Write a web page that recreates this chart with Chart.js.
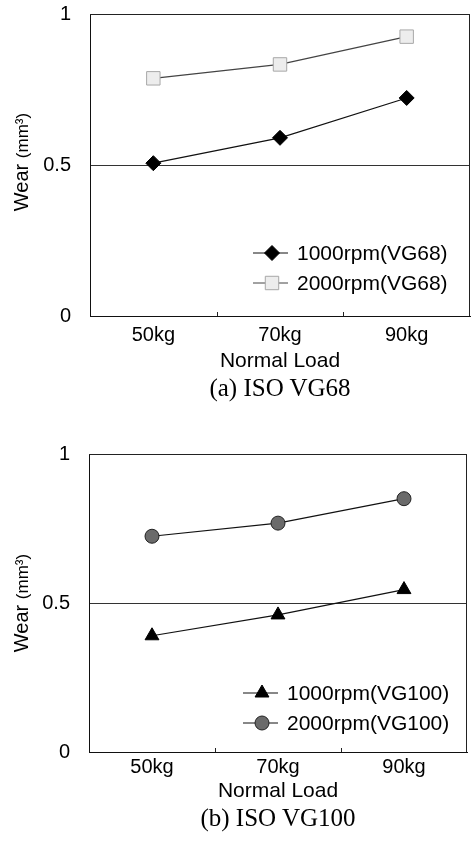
<!DOCTYPE html>
<html>
<head>
<meta charset="utf-8">
<script src="https://cdn.jsdelivr.net/npm/chart.js@4"></script>
<style>
  body { margin: 0; background: #fff; width: 471px; height: 855px; position: relative; overflow: hidden; }
  .box { position: absolute; left: 0; width: 471px; }
  .caption { position: absolute; left: 0; width: 560px; text-align: center;
             font-family: "Liberation Serif", "Times New Roman", serif; font-size: 25px; color: #000; line-height: 28px; }
</style>
</head>
<body>
<div class="box" style="top:0; height:375px;"><canvas id="chartA" width="471" height="375"></canvas></div>
<div class="caption" style="top:374px;">(a) ISO VG68</div>
<div class="box" style="top:440px; height:366px;"><canvas id="chartB" width="471" height="366"></canvas></div>
<div class="caption" style="top:804px; width:556px;">(b) ISO VG100</div>
<script>
// categories and read-off values
const loads = ['50kg', '70kg', '90kg'];
const yTicks = [0, 0.5, 1];

const wearVG68_1000 = [0.506, 0.590, 0.722];
const wearVG68_2000 = [0.787, 0.833, 0.925];
const wearVG100_1000 = [0.39, 0.46, 0.545];
const wearVG100_2000 = [0.724, 0.768, 0.850];

const SANS = '"Liberation Sans", Arial, sans-serif';
Chart.defaults.font.family = SANS;
Chart.defaults.color = '#000';

// frame, inner category ticks, y title and the legend box inside the plot
const decor = {
    id: 'decor',
    afterDraw(chart, args, opts) {
        const ctx = chart.ctx;
        const a = chart.chartArea;
        const x = chart.scales.x;
        ctx.save();
        ctx.strokeStyle = '#222';
        ctx.lineWidth = 1;
        ctx.beginPath();
        ctx.moveTo(a.left, a.top + 0.5);
        ctx.lineTo(a.right - 0.5, a.top + 0.5);
        ctx.lineTo(a.right - 0.5, a.bottom);
        ctx.stroke();

        // small ticks between categories
        const half = (x.getPixelForValue(1) - x.getPixelForValue(0)) / 2;
        for (let i = 0; i < loads.length - 1; i++) {
            const px = Math.round(x.getPixelForValue(i) + half) + 0.5;
            ctx.beginPath();
            ctx.moveTo(px, a.bottom);
            ctx.lineTo(px, a.bottom - 4);
            ctx.stroke();
        }

        // rotated y title "Wear (mm³)" with the smaller unit
        ctx.translate(22, opts.titleY);
        ctx.rotate(-Math.PI / 2);
        ctx.textBaseline = 'middle';
        ctx.fillStyle = '#000';
        ctx.font = '20px ' + SANS;
        const w1 = ctx.measureText('Wear ').width;
        ctx.font = '17px ' + SANS;
        const w2 = ctx.measureText('(mm³)').width;
        let tx = -(w1 + w2) / 2;
        ctx.font = '20px ' + SANS;
        ctx.textAlign = 'left';
        ctx.fillText('Wear ', tx, 0);
        ctx.font = '17px ' + SANS;
        ctx.fillText('(mm³)', tx + w1, 1);
        ctx.restore();

        // legend
        ctx.save();
        chart.data.datasets.forEach((ds, i) => {
            const ly = opts.legendY + i * 30;
            ctx.strokeStyle = ds.borderColor;
            ctx.lineWidth = 1;
            ctx.beginPath();
            ctx.moveTo(opts.legendX, ly);
            ctx.lineTo(opts.legendX + 35, ly);
            ctx.stroke();
            ctx.fillStyle = ds.pointBackgroundColor;
            ctx.strokeStyle = ds.pointBorderColor;
            ctx.lineWidth = ds.pointBorderWidth;
            Chart.helpers.drawPoint(ctx, {
                pointStyle: ds.pointStyle, radius: ds.pointRadius,
                rotation: 0, borderWidth: ds.pointBorderWidth
            }, opts.legendX + 19, ly);
            ctx.fillStyle = '#000';
            ctx.font = '21px ' + SANS;
            ctx.textAlign = 'left';
            ctx.textBaseline = 'middle';
            ctx.fillText(ds.label, opts.legendX + 44, ly + 1);
        });
        ctx.restore();
    }
};

function makeChart(id, datasets, cfg) {
    return new Chart(document.getElementById(id), {
        type: 'line',
        data: { labels: loads, datasets: datasets },
        options: {
            responsive: false,
            animation: false,
            events: [],
            layout: { autoPadding: false, padding: { top: 14, right: cfg.right, left: 0, bottom: 0 } },
            plugins: {
                legend: { display: false },
                tooltip: { enabled: false },
                decor: { titleY: cfg.titleY, legendX: cfg.legendX, legendY: cfg.legendY }
            },
            scales: {
                x: {
                    type: 'category',
                    offset: true,
                    grid: { display: false, drawTicks: false },
                    border: { display: true, color: '#111', width: 1 },
                    ticks: { font: { size: 20 }, padding: cfg.tickPad, color: '#000', maxRotation: 0 },
                    title: { display: true, text: 'Normal Load', font: { size: 21 },
                             color: '#000', padding: { top: 0, bottom: cfg.titlePad } },
                    afterFit: s => { s.height = cfg.xHeight; s.paddingLeft = 0; s.paddingRight = 0; }
                },
                y: {
                    min: 0, max: 1,
                    afterBuildTicks: s => { s.ticks = yTicks.map(v => ({ value: v })); },
                    grid: { color: '#333', lineWidth: 1, drawTicks: false },
                    border: { display: true, color: '#111', width: 1 },
                    ticks: { font: { size: 20 }, padding: 19, color: '#000', callback: v => String(v) },
                    afterFit: s => { s.width = cfg.yWidth; s.paddingTop = 0; s.paddingBottom = 0; }
                }
            }
        },
        plugins: [decor]
    });
}

makeChart('chartA', [
    {
        label: '1000rpm(VG68)', data: wearVG68_1000,
        borderColor: '#111', borderWidth: 1.2,
        pointStyle: 'rectRot', pointRadius: 7.5,
        pointBackgroundColor: '#000', pointBorderColor: '#000', pointBorderWidth: 1
    },
    {
        label: '2000rpm(VG68)', data: wearVG68_2000,
        borderColor: '#444', borderWidth: 1.2,
        pointStyle: 'rect', pointRadius: 9.5,
        pointBackgroundColor: '#ededed', pointBorderColor: '#a8a8a8', pointBorderWidth: 1
    }
], { right: 1, yWidth: 90, xHeight: 59, tickPad: 7, titlePad: 1, titleY: 162, legendX: 253, legendY: 253 });

makeChart('chartB', [
    {
        label: '1000rpm(VG100)', data: wearVG100_1000,
        borderColor: '#111', borderWidth: 1.2,
        pointStyle: 'triangle', pointRadius: 8,
        pointBackgroundColor: '#000', pointBorderColor: '#000', pointBorderWidth: 1
    },
    {
        label: '2000rpm(VG100)', data: wearVG100_2000,
        borderColor: '#111', borderWidth: 1.2,
        pointStyle: 'circle', pointRadius: 7,
        pointBackgroundColor: '#6a6a6a', pointBorderColor: '#222', pointBorderWidth: 1
    }
], { right: 4, yWidth: 89, xHeight: 54, tickPad: 3, titlePad: 2, titleY: 163, legendX: 243, legendY: 253 });
</script>
</body>
</html>
